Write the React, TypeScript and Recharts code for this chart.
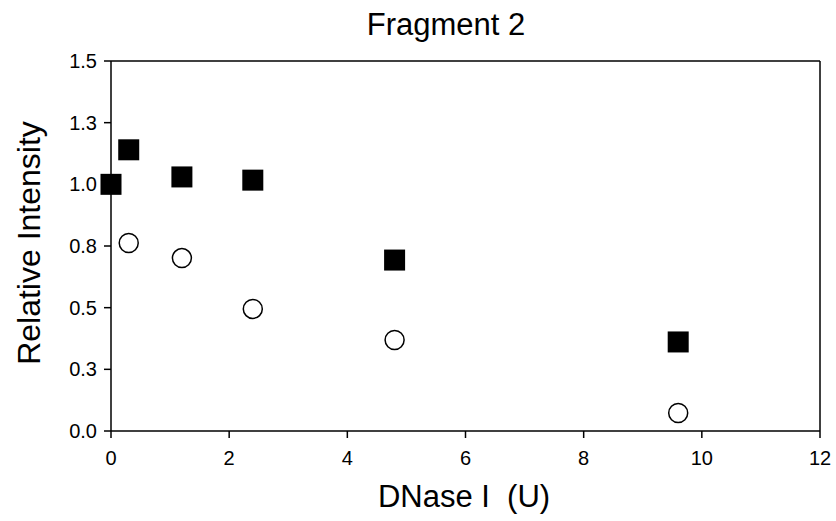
import { ScatterChart, Scatter, XAxis, YAxis, ReferenceLine } from "recharts";

const dnaseUnits = [0, 0.3, 1.2, 2.4, 4.8, 9.6];
const filledValues = [1.0, 1.14, 1.03, 1.017, 0.693, 0.361];
const openUnits = [0.3, 1.2, 2.4, 4.8, 9.6];
const openValues = [0.762, 0.701, 0.495, 0.369, 0.073];

const xTicks = [0, 2, 4, 6, 8, 10, 12];
const yTicks = [0, 0.25, 0.5, 0.75, 1.0, 1.25, 1.5];
const yTickLabels = ["0.0", "0.3", "0.5", "0.8", "1.0", "1.3", "1.5"];

const filledData = dnaseUnits.map((x, i) => ({ x, y: filledValues[i] }));
const openData = openUnits.map((x, i) => ({ x, y: openValues[i] }));

const FONT = '"Liberation Sans", Arial, sans-serif';

const SquareMark = (props: any) => {
  const { cx, cy } = props;
  return <rect x={cx - 10.5} y={cy - 10.5} width={21} height={21} fill="#000" />;
};

const CircleMark = (props: any) => {
  const { cx, cy } = props;
  return <circle cx={cx} cy={cy} r={9.5} fill="#fff" stroke="#000" strokeWidth={1.5} />;
};

const XTick = (props: any) => {
  const { x, y, payload } = props;
  return (
    <text x={x} y={y} dy="0.71em" textAnchor="middle" fontSize={20} fontFamily={FONT} fill="#000">
      {payload.value}
    </text>
  );
};

const YTick = (props: any) => {
  const { x, y, payload } = props;
  return (
    <text x={x} y={y} dy="0.355em" textAnchor="end" fontSize={20} fontFamily={FONT} fill="#000">
      {yTickLabels[yTicks.indexOf(payload.value)] ?? String(payload.value)}
    </text>
  );
};

const App = () => {
  return (
    <div style={{ position: "absolute", left: 0, top: 0, width: 836, height: 521, background: "#fff" }}>
      <ScatterChart width={836} height={521} margin={{ top: 61, right: 16, left: 0, bottom: 0 }}>
        <XAxis
          type="number"
          dataKey="x"
          domain={[0, 12]}
          ticks={xTicks}
          height={90}
          tick={<XTick />}
          tickSize={7}
          tickMargin={13}
          tickLine={{ stroke: "#000", strokeWidth: 1.5 }}
          axisLine={{ stroke: "#000", strokeWidth: 1.5 }}
        />
        <YAxis
          type="number"
          dataKey="y"
          domain={[0, 1.5]}
          ticks={yTicks}
          width={111}
          tick={<YTick />}
          tickSize={7}
          tickMargin={7}
          tickLine={{ stroke: "#000", strokeWidth: 1.5 }}
          axisLine={{ stroke: "#000", strokeWidth: 1.5 }}
        />
        <ReferenceLine y={1.5} stroke="#000" strokeWidth={1.5} />
        <ReferenceLine x={12} stroke="#000" strokeWidth={1.5} />
        <Scatter data={openData} shape={CircleMark} isAnimationActive={false} />
        <Scatter data={filledData} shape={SquareMark} isAnimationActive={false} />
      </ScatterChart>
      <svg
        width={836}
        height={521}
        style={{ position: "absolute", left: 0, top: 0, pointerEvents: "none" }}
        fontFamily={FONT}
      >
        <text x={446} y={35} textAnchor="middle" fontSize={31} fill="#000">
          Fragment 2
        </text>
        <text
          x={40}
          y={243}
          textAnchor="middle"
          fontSize={32}
          fill="#000"
          transform="rotate(-90, 40, 243)"
        >
          Relative Intensity
        </text>
        <text x={464} y={507} textAnchor="middle" fontSize={31} fill="#000" style={{ whiteSpace: "pre" }}>
          DNase I  (U)
        </text>
      </svg>
    </div>
  );
};

export default App;
